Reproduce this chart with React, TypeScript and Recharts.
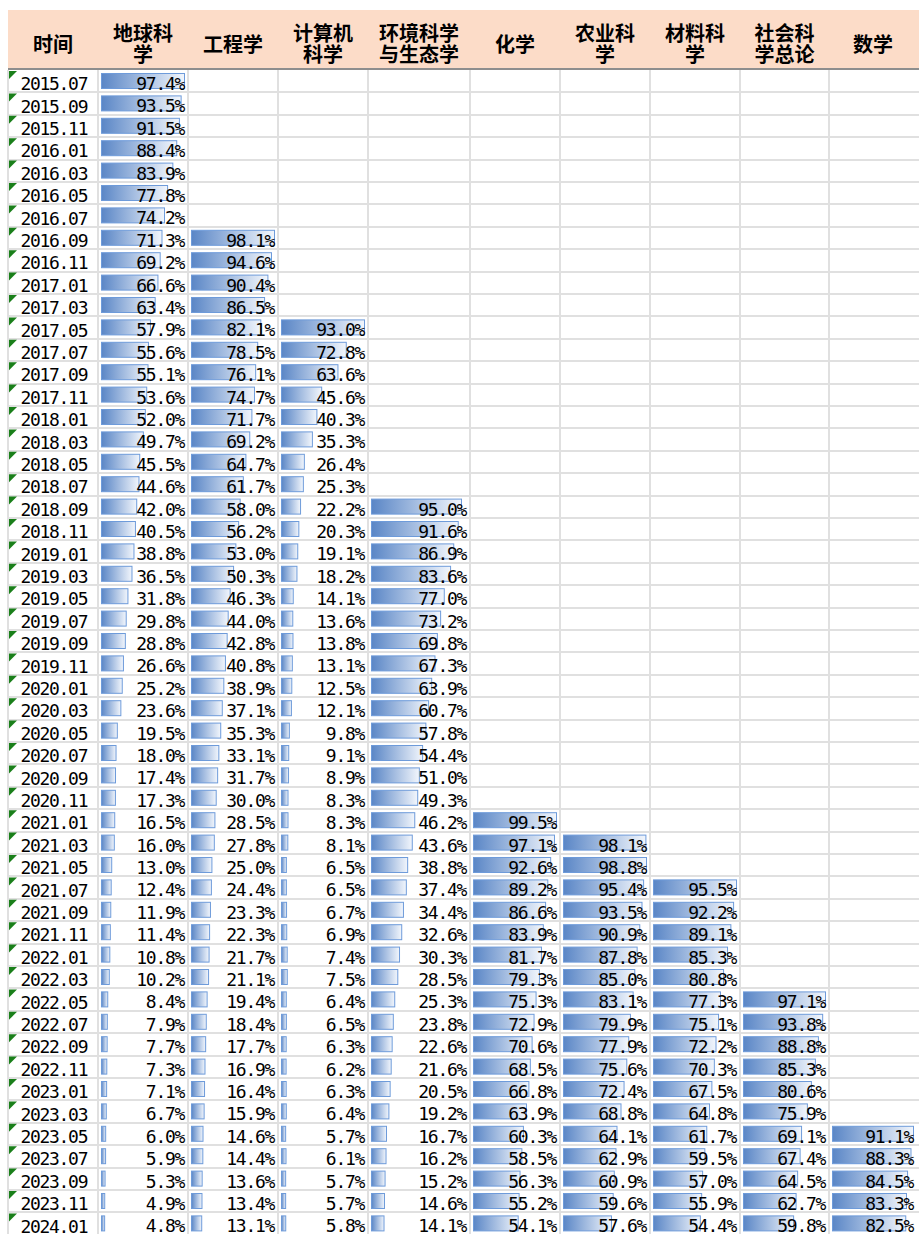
import React from "react";
import { BarChart, Bar, XAxis, YAxis, LabelList } from "recharts";

const dates = [
  "2015.07","2015.09","2015.11","2016.01","2016.03","2016.05","2016.07","2016.09","2016.11",
  "2017.01","2017.03","2017.05","2017.07","2017.09","2017.11","2018.01","2018.03","2018.05",
  "2018.07","2018.09","2018.11","2019.01","2019.03","2019.05","2019.07","2019.09","2019.11",
  "2020.01","2020.03","2020.05","2020.07","2020.09","2020.11","2021.01","2021.03","2021.05",
  "2021.07","2021.09","2021.11","2022.01","2022.03","2022.05","2022.07","2022.09","2022.11",
  "2023.01","2023.03","2023.05","2023.07","2023.09","2023.11","2024.01",
];

const earthSci = [97.4,93.5,91.5,88.4,83.9,77.8,74.2,71.3,69.2,66.6,63.4,57.9,55.6,55.1,53.6,52.0,49.7,45.5,44.6,42.0,40.5,38.8,36.5,31.8,29.8,28.8,26.6,25.2,23.6,19.5,18.0,17.4,17.3,16.5,16.0,13.0,12.4,11.9,11.4,10.8,10.2,8.4,7.9,7.7,7.3,7.1,6.7,6.0,5.9,5.3,4.9,4.8];
const engineering = [98.1,94.6,90.4,86.5,82.1,78.5,76.1,74.7,71.7,69.2,64.7,61.7,58.0,56.2,53.0,50.3,46.3,44.0,42.8,40.8,38.9,37.1,35.3,33.1,31.7,30.0,28.5,27.8,25.0,24.4,23.3,22.3,21.7,21.1,19.4,18.4,17.7,16.9,16.4,15.9,14.6,14.4,13.6,13.4,13.1];
const computerSci = [93.0,72.8,63.6,45.6,40.3,35.3,26.4,25.3,22.2,20.3,19.1,18.2,14.1,13.6,13.8,13.1,12.5,12.1,9.8,9.1,8.9,8.3,8.3,8.1,6.5,6.5,6.7,6.9,7.4,7.5,6.4,6.5,6.3,6.2,6.3,6.4,5.7,6.1,5.7,5.7,5.8];
const envEco = [95.0,91.6,86.9,83.6,77.0,73.2,69.8,67.3,63.9,60.7,57.8,54.4,51.0,49.3,46.2,43.6,38.8,37.4,34.4,32.6,30.3,28.5,25.3,23.8,22.6,21.6,20.5,19.2,16.7,16.2,15.2,14.6,14.1];
const chemistry = [99.5,97.1,92.6,89.2,86.6,83.9,81.7,79.3,75.3,72.9,70.6,68.5,66.8,63.9,60.3,58.5,56.3,55.2,54.1];
const agriculture = [98.1,98.8,95.4,93.5,90.9,87.8,85.0,83.1,79.9,77.9,75.6,72.4,68.8,64.1,62.9,60.9,59.6,57.6];
const materials = [95.5,92.2,89.1,85.3,80.8,77.3,75.1,72.2,70.3,67.5,64.8,61.7,59.5,57.0,55.9,54.4];
const socialSci = [97.1,93.8,88.8,85.3,80.6,75.9,69.1,67.4,64.5,62.7,59.8];
const mathematics = [91.1,88.3,84.5,83.3,82.5];

const headers = ["时间", "地球科\n学", "工程学", "计算机\n科学", "环境科学\n与生态学", "化学", "农业科\n学", "材料科\n学", "社会科\n学总论", "数学"];

const seriesList = [earthSci, engineering, computerSci, envEco, chemistry, agriculture, materials, socialSci, mathematics];

// layout
const COL_EDGES = [8, 98, 188, 278, 368, 470, 560, 650, 740, 829, 917];
const RIGHT_PAD = [3, 3, 3, 3, 8, 3, 3, 3, 3, 3];
const ROW_H = 22.4;
const TOP = 70;
const N = dates.length;
const CHART_H = N * ROW_H;
const NUM_FONT = "'DejaVu Sans Mono', monospace";

const pad = (arr: number[]) => {
  const out: (number | null)[] = new Array(N - arr.length).fill(null);
  return out.concat(arr);
};

const tableData = dates.map((d, i) => {
  const row: any = { date: d };
  seriesList.forEach((s, k) => {
    row["s" + k] = pad(s)[i];
  });
  return row;
});

const DataBar = (gid: string) => (props: any) => {
  const { x, y, width, height, value } = props;
  if (value == null || !width || width <= 0) return null;
  return (
    <rect
      x={x + 0.5}
      y={y + 0.5}
      width={Math.max(width - 1, 1)}
      height={height - 1}
      fill={`url(#${gid})`}
      stroke="#6E9BDA"
      strokeWidth={1}
    />
  );
};

const makeLabel = (chartW: number) => (props: any) => {
  const { value } = props;
  const vb = props.viewBox || props;
  if (value == null) return null;
  const cy = vb.y + vb.height / 2;
  return (
    <text
      x={chartW - 4}
      y={cy + 9}
      textAnchor="end"
      fontFamily={NUM_FONT}
      fontSize={18}
      letterSpacing={-1.3}
      fill="#000"
    >
      {value.toFixed(1) + "%"}
    </text>
  );
};

const DateTick = (props: any) => {
  const { y, payload } = props;
  const top = y - ROW_H / 2;
  return (
    <g>
      <polygon points={`1,${top + 1} 9,${top + 1} 1,${top + 9}`} fill="#1A7F1A" />
      <text x={12.5} y={y + 9} fontFamily={NUM_FONT} fontSize={18} letterSpacing={-1.3} fill="#000" textAnchor="start">
        {payload.value}
      </text>
    </g>
  );
};

const ColumnChart = ({ k }: { k: number }) => {
  const first = k === 0;
  const left = first ? COL_EDGES[0] : COL_EDGES[k + 1];
  const right = COL_EDGES[k + 2];
  const w = right - left;
  const key = "s" + k;
  const max = Math.max(...seriesList[k]);
  const gid = "grad" + k;
  return (
    <div style={{ position: "absolute", left, top: TOP, width: w, height: CHART_H }}>
      <BarChart
        width={w}
        height={CHART_H}
        data={tableData}
        layout="vertical"
        margin={{ top: 0, right: RIGHT_PAD[k + 1], bottom: 0, left: 0 }}
        barSize={16}
      >
        <defs>
          <linearGradient id={gid} x1="0" y1="0" x2="1" y2="0">
            <stop offset="0%" stopColor="#5A86C6" />
            <stop offset="100%" stopColor="#F2F6FC" />
          </linearGradient>
        </defs>
        <XAxis type="number" domain={[0, max]} hide padding={{ left: 3, right: 0 }} />
        {first ? (
          <YAxis
            type="category"
            dataKey="date"
            width={COL_EDGES[1] - COL_EDGES[0]}
            axisLine={false}
            tickLine={false}
            tick={<DateTick />}
            interval={0}
          />
        ) : (
          <YAxis type="category" dataKey="date" hide />
        )}
        <Bar dataKey={key} isAnimationActive={false} shape={DataBar(gid)}>
          <LabelList dataKey={key} content={makeLabel(w)} />
        </Bar>
      </BarChart>
    </div>
  );
};

export default function App() {
  const lineColor = "#E0E0E0";
  return (
    <div style={{ position: "absolute", left: 0, top: 0, width: 919, height: 1234, overflow: "hidden", background: "#fff" }}>
      {/* header band */}
      <div style={{ position: "absolute", left: 8, top: 10, width: 911, height: 58, background: "#FCDCC8" }} />
      <div style={{ position: "absolute", left: 8, top: 68, width: 911, height: 2, background: "#8E8E8E" }} />
      {headers.map((h, i) => (
        <div
          key={h}
          style={{
            position: "absolute",
            left: COL_EDGES[i],
            top: 10,
            width: COL_EDGES[i + 1] - COL_EDGES[i],
            height: 58,
            paddingTop: 8,
            boxSizing: "border-box",
            display: "flex",
            alignItems: "center",
            justifyContent: "center",
            textAlign: "center",
            whiteSpace: "pre-line",
            fontFamily: "'Noto Sans CJK SC', sans-serif",
            fontWeight: 700,
            fontSize: 20,
            lineHeight: "21px",
            color: "#000",
          }}
        >
          {h}
        </div>
      ))}
      {/* grid lines */}
      {dates.map((d, i) => (
        <div
          key={"h" + d}
          style={{ position: "absolute", left: 8, top: TOP + (i + 1) * ROW_H - 1, width: 911, height: 2, background: lineColor }}
        />
      ))}
      {COL_EDGES.slice(0, -1).map((x) => (
        <div key={"v" + x} style={{ position: "absolute", left: x - 1, top: TOP, width: 2, height: CHART_H, background: lineColor }} />
      ))}
      {seriesList.map((s, k) => (
        <ColumnChart key={k} k={k} />
      ))}
    </div>
  );
}
